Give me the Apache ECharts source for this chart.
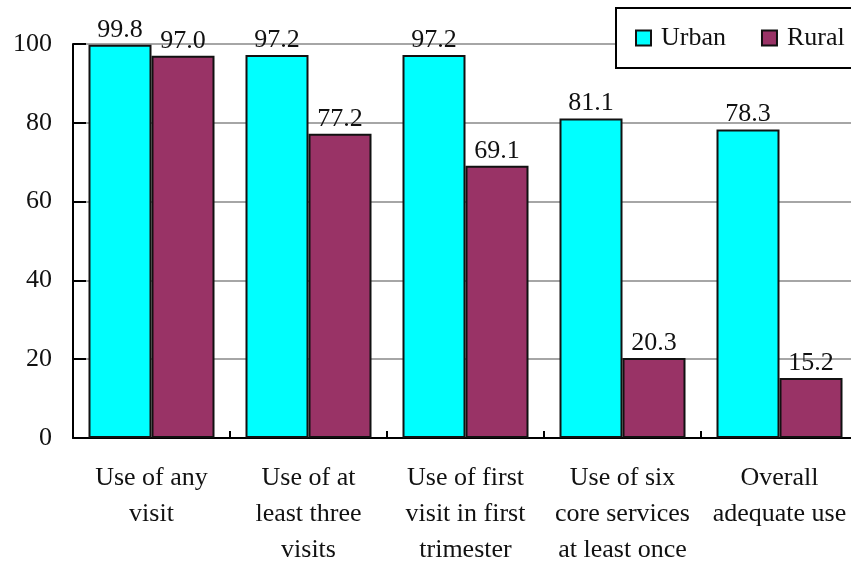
<!DOCTYPE html>
<html>
<head>
<meta charset="utf-8">
<script src="https://cdn.jsdelivr.net/npm/echarts@6/dist/echarts.min.js"></script>
<style>html,body{margin:0;padding:0;background:#fff}#c{width:851px;height:561px}</style>
</head>
<body>
<div id="c"></div>
<script>
const categories = ["Use of any\nvisit", "Use of at\nleast three\nvisits", "Use of first\nvisit in first\ntrimester", "Use of six\ncore services\nat least once", "Overall\nadequate use"];
const urban = [99.8, 97.2, 97.2, 81.1, 78.3];
const rural = [97.0, 77.2, 69.1, 20.3, 15.2];
const yTicks = [0, 20, 40, 60, 80, 100];

const font = '"Liberation Serif", "Times New Roman", serif';
const chart = echarts.init(document.getElementById('c'), null, {renderer: 'canvas'});
const lbl = {
  show: true, position: 'top', distance: 2,
  fontFamily: font, fontSize: 26, color: '#111',
  formatter: p => p.value.toFixed(1)
};
chart.setOption({
  animation: false,
  backgroundColor: '#fff',
  textStyle: {fontFamily: font},
  grid: {left: 73, top: 44, width: 785, height: 394, containLabel: false, outerBoundsMode: 'none'},
  legend: {
    orient: 'horizontal',
    left: 616, top: 8, width: 300,
    padding: [17, 19, 17, 19],
    itemGap: 35, itemWidth: 15, itemHeight: 15,
    borderColor: '#000', borderWidth: 2, backgroundColor: '#fff',
    icon: 'rect',
    textStyle: {fontFamily: font, fontSize: 26, color: '#111', padding: [0, 0, 0, 5]},
    data: ['Urban', 'Rural']
  },
  xAxis: {
    type: 'category', data: categories,
    axisLine: {lineStyle: {color: '#000', width: 2}},
    axisTick: {show: true, inside: true, length: 7, lineStyle: {color: '#000', width: 2}},
    axisLabel: {fontFamily: font, fontSize: 26, color: '#111', lineHeight: 36, margin: 22, interval: 0}
  },
  yAxis: {
    type: 'value', min: yTicks[0], max: yTicks[yTicks.length - 1], interval: yTicks[1] - yTicks[0],
    axisLine: {show: true, lineStyle: {color: '#000', width: 2}},
    axisTick: {show: true, inside: true, length: 13, lineStyle: {color: '#000', width: 2}},
    axisLabel: {fontFamily: font, fontSize: 26, color: '#111', margin: 21},
    splitLine: {lineStyle: {color: '#888', width: 1.5}}
  },
  series: [
    {name: 'Urban', type: 'bar', data: urban, barWidth: 63, barGap: '0%',
     itemStyle: {color: '#00FFFF', borderColor: '#111', borderWidth: 2}, label: lbl},
    {name: 'Rural', type: 'bar', data: rural, barWidth: 63,
     itemStyle: {color: '#993366', borderColor: '#111', borderWidth: 2}, label: lbl}
  ]
});
</script>
</body>
</html>
